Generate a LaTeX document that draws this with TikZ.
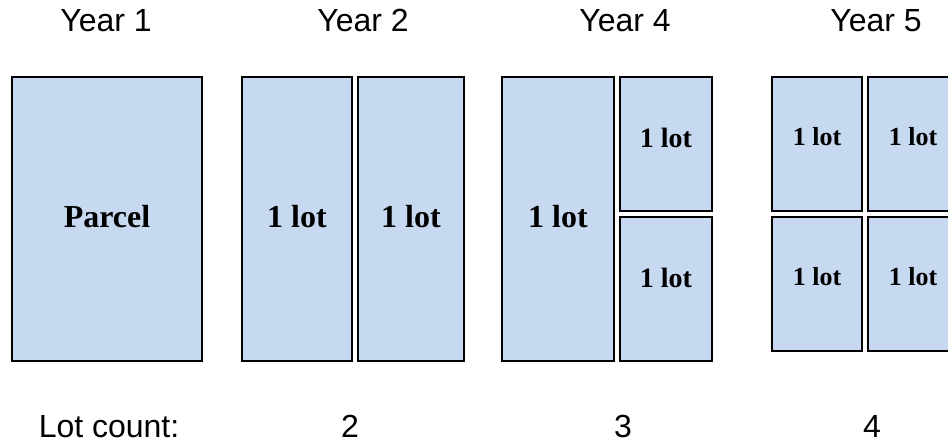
\documentclass[tikz,border=0pt]{standalone}
\usepackage{fontspec}
\setmainfont{Liberation Serif}
\setsansfont{Liberation Sans}
\usetikzlibrary{positioning}
\definecolor{lotblue}{RGB}{199,217,240}

\begin{document}
\begin{tikzpicture}[
        x=0.75pt, y=-0.75pt,
        node distance=3pt,
        plot/.style={rectangle, draw=black, fill=lotblue, line width=1.5pt, inner sep=0pt, minimum height=213pt, text depth=4.5pt, font=\bfseries\fontsize{24}{28}\selectfont},
        lot/.style={plot, minimum width=67.5pt, minimum height=100.5pt, text depth=12pt, font=\bfseries\fontsize{19.5}{23}\selectfont},
        yearlabel/.style={anchor=base, inner sep=0pt, font=\sffamily\fontsize{24}{28}\selectfont}
    ]
        \clip (0,0) rectangle (948,442);

        % year headings
        \node[yearlabel] (year1) at (106,32) {Year 1};
        \node[yearlabel] (year2) at (363,32) {Year 2};
        \node[yearlabel] (year4) at (625,32) {Year 4};
        \node[yearlabel] (year5) at (876,32) {Year 5};

        % year 1
        \node[plot, minimum width=142.5pt] (parcel) at (107,219) {Parcel};

        % year 2
        \node[plot, minimum width=82.5pt] (lotA) at (297,219) {1 lot};
        \node[plot, minimum width=79.5pt, right=of lotA] (lotB) {1 lot};

        % year 4
        \node[plot, minimum width=84pt] (lotC) at (558,219) {1 lot};
        \node[plot, minimum width=69pt, minimum height=100.5pt, text depth=9pt, font=\bfseries\fontsize{21}{25}\selectfont,
              right=of lotC.north east, anchor=north west] (lotD) {1 lot};
        \node[plot, minimum width=69pt, minimum height=108pt, text depth=16.5pt, font=\bfseries\fontsize{21}{25}\selectfont,
              below=of lotD] (lotE) {1 lot};

        % year 5
        \node[lot] (lotF) at (817,144) {1 lot};
        \node[lot, right=of lotF] (lotG) {1 lot};
        \node[lot, below=of lotF] (lotH) {1 lot};
        \node[lot, below=of lotG] (lotI) {1 lot};

        % counts
        \node[yearlabel, anchor=base west] (countlabel) at (38.5,437) {Lot count:};
        \node[yearlabel] (count2) at (350,437) {2};
        \node[yearlabel] (count3) at (623,437) {3};
        \node[yearlabel] (count4) at (872,437) {4};
    \end{tikzpicture}
\end{document}
